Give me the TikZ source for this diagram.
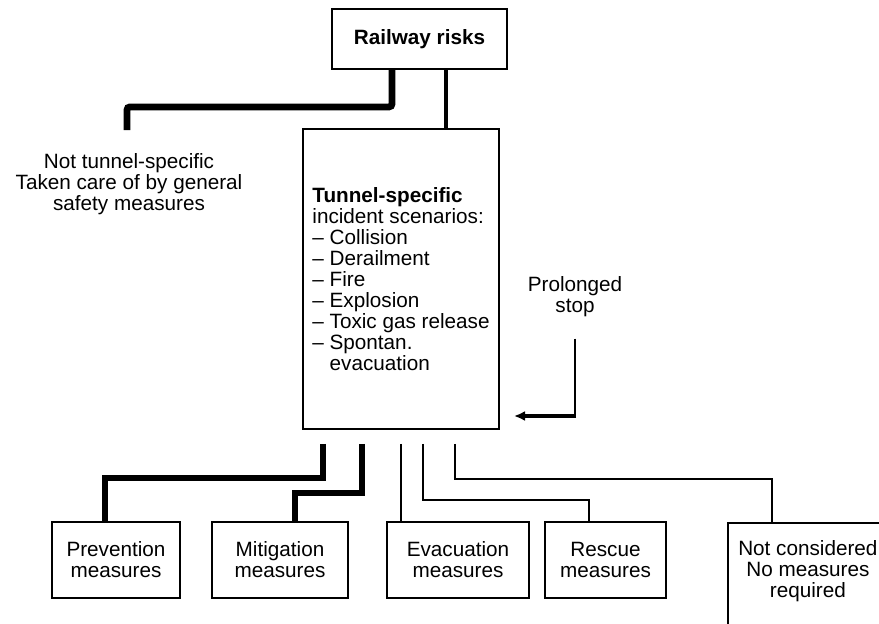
\documentclass[tikz,border=0pt]{standalone}
\usepackage{fontspec}
\setmainfont{Liberation Sans}
\usetikzlibrary{arrows.meta}
\tikzset{
  box/.style={draw, line width=1.8pt, inner sep=0pt, align=center},
  heavy/.style={line width=6.8pt},
  wide/.style={line width=5.5pt},
  mid/.style={line width=3.5pt},
  fine/.style={line width=2pt},
}

\begin{document}
\begin{tikzpicture}[x=1pt,y=-1pt,font=\fontsize{20.7}{21}\selectfont]
  %%%%% START %%%%%
  \useasboundingbox (0,0) rectangle (879,624);

  \node[box, minimum width=175pt, minimum height=60pt] (risks) at (419.5,39) {\textbf{Railway risks}};
  \node[box, minimum width=196pt, minimum height=300pt, align=left] (tunnel) at (401,279)
    {\textbf{Tunnel-specific}\\incident scenarios:\\-- Collision\\-- Derailment\\-- Fire\\-- Explosion\\-- Toxic gas release\\-- Spontan.\\\hphantom{-- }evacuation};

  \node[align=center] (notspec) at (129,184) {Not tunnel-specific\\Taken care of by general\\safety measures};
  \coordinate (stub) at (127,130);

  \node[align=center] (stop) at (575,297) {Prolonged\\stop};
  \coordinate (turn) at (575,416);
  \coordinate (back) at (514,416);

  \node[box, minimum width=128pt, minimum height=76pt] (prev) at (116,560) {Prevention\\measures};
  \node[box, minimum width=136pt, minimum height=76pt] (miti) at (280,560) {Mitigation\\measures};
  \node[box, minimum width=142pt, minimum height=76pt] (evac) at (458,560) {Evacuation\\measures};
  \node[box, minimum width=121pt, minimum height=76pt] (resc) at (605.5,560) {Rescue\\measures};
  \node[box, anchor=north west, minimum width=160pt, inner ysep=18pt, text depth=80pt] (none) at (727,522) {Not considered\\No measures\\required};

  % from the top box
  \draw[heavy, rounded corners=3pt] ([xshift=-27.5pt]risks.south) -- ++(0,37) -| (stub);
  \draw[mid] ([xshift=26.5pt]risks.south) -- ([xshift=45pt]tunnel.north);

  % prolonged stop
  \draw[fine] ([yshift=-18pt]stop.south) -- ([yshift=-1.7pt]turn);
  \draw[mid, -{Latex[length=11pt,width=10pt]}] ([xshift=1pt]turn) -- (back);

  % measures
  \draw[heavy] ([xshift=-78pt,yshift=-14pt]tunnel.south) -- ++(0,34) -| ([xshift=-11pt]prev.north);
  \draw[wide] ([xshift=-39pt,yshift=-14pt]tunnel.south) -- ++(0,49) -| ([xshift=15pt]miti.north);
  \draw[fine] ([yshift=-14pt]tunnel.south) -- ([xshift=-57pt]evac.north);
  \draw[fine] ([xshift=22pt,yshift=-14pt]tunnel.south) -- ++(0,56) -| ([xshift=-16.5pt]resc.north);
  \draw[fine] ([xshift=54pt,yshift=-14pt]tunnel.south) -- ++(0,35) -| ([xshift=-36pt]none.north);
  %%%%% END %%%%%
\end{tikzpicture}
\end{document}
